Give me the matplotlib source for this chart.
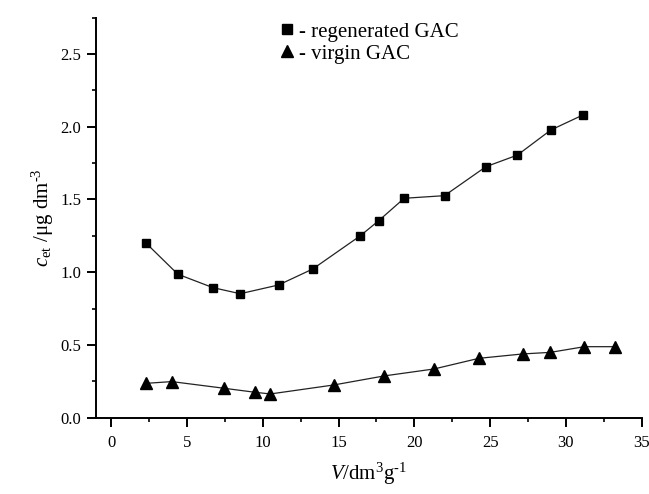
import matplotlib
matplotlib.use("Agg")
import matplotlib.pyplot as plt
from matplotlib.lines import Line2D
from matplotlib.ticker import MultipleLocator

plt.rcParams['font.family'] = ['Liberation Serif', 'DejaVu Serif']
plt.rcParams['mathtext.fontset'] = 'custom'
plt.rcParams['mathtext.rm'] = 'Liberation Serif'
plt.rcParams['mathtext.it'] = 'Liberation Serif:italic'

# regenerated GAC
regen_x = [2.31, 4.40, 6.71, 8.51, 11.04, 13.30, 16.42, 17.65, 19.33, 21.99, 24.72, 26.80, 29.0, 31.11]
regen_y = [1.199, 0.986, 0.894, 0.852, 0.912, 1.022, 1.249, 1.354, 1.508, 1.526, 1.725, 1.805, 1.977, 2.08]
# virgin GAC
virgin_x = [2.30, 4.00, 7.46, 9.46, 10.50, 14.70, 18.01, 21.31, 24.26, 27.14, 28.98, 31.22, 33.25]
virgin_y = [0.236, 0.248, 0.202, 0.175, 0.163, 0.225, 0.287, 0.335, 0.408, 0.438, 0.449, 0.488, 0.488]

legend_labels = ['- regenerated GAC', '- virgin GAC']

fig = plt.figure(figsize=(6.49, 4.94), dpi=100)
ax = fig.add_axes([0.1479, 0.1545, 0.9888 - 0.1479, 0.9644 - 0.1545])

ax.plot(regen_x, regen_y, color='#222222', lw=0.9, marker='s', ms=6.3,
        mfc='black', mec='black', zorder=3)
ax.plot(virgin_x, virgin_y, color='#222222', lw=0.9, marker='^', ms=8,
        mfc='black', mec='black', zorder=3)

ax.set_xlim(-1, 35)
ax.set_ylim(0, 2.75)
ax.xaxis.set_major_locator(MultipleLocator(5))
ax.xaxis.set_minor_locator(MultipleLocator(2.5))
ax.yaxis.set_major_locator(MultipleLocator(0.5))
ax.yaxis.set_minor_locator(MultipleLocator(0.25))

for s in ['top', 'right']:
    ax.spines[s].set_visible(False)
for s in ['left', 'bottom']:
    ax.spines[s].set_linewidth(1.4)

ax.tick_params(which='major', direction='out', length=6.5, width=1.4,
               labelsize=12, pad=4)
ax.tick_params(which='minor', direction='out', length=3.2, width=1.2)
ax.tick_params(axis='x', which='major', pad=6)

ax.set_xlabel(r'$V$/dm$^{3}$g$^{\text{-}1}$', fontsize=15, labelpad=7)
ax.set_ylabel(r'$c_{\rm et}$ /μg dm$^{\text{-}3}$', fontsize=15, labelpad=3)

handles = [Line2D([], [], ls='none', marker='s', ms=7.2, color='black'),
           Line2D([], [], ls='none', marker='^', ms=8.5, color='black')]
ax.legend(handles, legend_labels, loc='upper left', bbox_to_anchor=(0.323, 1.01),
          frameon=False, fontsize=15, handlelength=0.6, handletextpad=0.3,
          labelspacing=0.12, borderaxespad=0)

fig.savefig('out.png', dpi=100)
